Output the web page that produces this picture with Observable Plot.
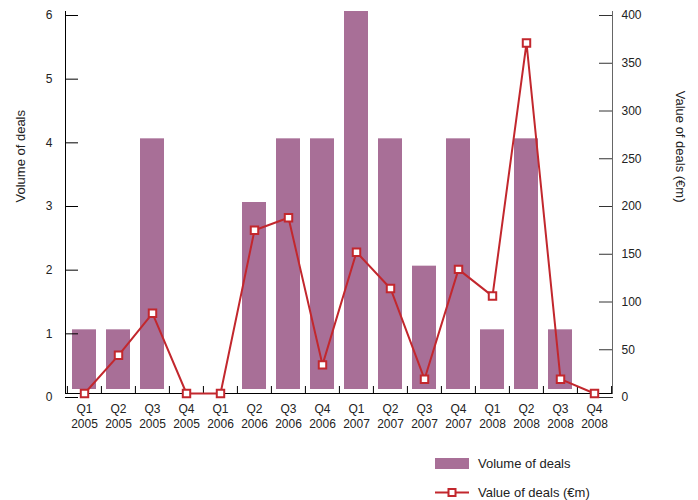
<!DOCTYPE html>
<html>
<head>
<meta charset="utf-8">
<script src="https://cdn.jsdelivr.net/npm/d3@7"></script>
<script src="https://cdn.jsdelivr.net/npm/@observablehq/plot@0.6"></script>
<style>
  body { margin: 0; background: #fff; font-family: "Liberation Sans", Arial, Helvetica, sans-serif; }
  #chart svg { display: block; }
  .legend { position: relative; padding-top: 9px; padding-left: 435px; font-size: 13px; color: #222; }
  .row { height: 29px; display: flex; align-items: center; }
  .sw { width: 34px; height: 11px; background: #a86f97; margin-right: 9px; }
  .ln { width: 34px; height: 11px; margin-right: 9px; }
</style>
</head>
<body>
<div id="chart"></div>
<div class="legend">
  <div class="row"><div class="sw"></div><span>Volume of deals</span></div>
  <div class="row"><svg class="ln" width="34" height="11"><line x1="0" y1="5.5" x2="34" y2="5.5" stroke="#c2272d" stroke-width="2"/><rect x="13.5" y="2" width="7" height="7" fill="#fff" stroke="#c2272d" stroke-width="2"/></svg><span>Value of deals (€m)</span></div>
</div>
<script>
const quarters = ["Q1 2005","Q2 2005","Q3 2005","Q4 2005","Q1 2006","Q2 2006","Q3 2006","Q4 2006",
                  "Q1 2007","Q2 2007","Q3 2007","Q4 2007","Q1 2008","Q2 2008","Q3 2008","Q4 2008"];
const volume = [1,1,4,0,0,3,4,4,6,4,2,4,1,4,1,0];
const valueEm = [0,40,84,0,0,171,184,30,148,110,15,130,102,367,15,0];
const leftTicks = [0,1,2,3,4,5,6];
const rightTicks = [0,50,100,150,200,250,300,350,400];

const k = 6 / 400; // value (€m) -> volume axis units
const data = quarters.map((q, i) => ({q, vol: volume[i], val: valueEm[i] * k}));

const W = 698, H = 440, mL = 65, mR = 86, mT = 11, mB = 47;
const n = quarters.length;
const step = (W - mL - mR) / n;
const unitPx = (H - mT - mB) / 6;

const red = "#c2272d", bar = "#a86f97";

const chart = Plot.plot({
  width: W, height: H,
  marginLeft: mL, marginRight: mR, marginTop: mT, marginBottom: mB,
  style: {fontFamily: '"Liberation Sans", Arial, Helvetica, sans-serif', fontSize: "12px", color: "#222", background: "#fff"},
  x: {domain: quarters, paddingInner: 0.3, paddingOuter: 0.15, axis: null, label: null},
  y: {domain: [0, 6], axis: null, label: null},
  marks: [
    Plot.barY(data.filter(d => d.vol > 0), {x: "q", y1: 0, y2: "vol", fill: bar, insetBottom: 4}),
    // left axis
    Plot.axisY(leftTicks, {anchor: "left", label: null, tickSize: -13, tickPadding: 26, dy: 4, stroke: "#000", tickFormat: d => String(d), fontSize: 12}),
    Plot.frame({anchor: "left", stroke: "#000"}),
    // right axis
    Plot.axisY(rightTicks.map(v => v * k), {anchor: "right", label: null, tickSize: -14, tickPadding: 23, dy: 4, stroke: "#333", tickFormat: d => String(Math.round(d / k)), fontSize: 12}),
    Plot.frame({anchor: "right", stroke: "#666"}),
    // bottom axis
    Plot.ruleY([0], {stroke: "#000"}),
    Plot.ruleX(quarters, {x: d => d, y1: 0, y2: 7 / unitPx, dx: -step / 2, stroke: "#000"}),
    Plot.ruleX([quarters[n - 1]], {x: d => d, y1: 0, y2: 7 / unitPx, dx: step / 2, stroke: "#000"}),
    Plot.axisX(quarters, {anchor: "bottom", label: null, tickSize: 0, tickPadding: 9, lineHeight: 1.25, tickFormat: d => d.replace(" ", "\n"), fontSize: 12}),
    // line
    Plot.line(data, {x: "q", y: "val", stroke: red, strokeWidth: 2}),
    Plot.dot(data, {x: "q", y: "val", symbol: "square", r: 4.2, fill: "#fff", stroke: red, strokeWidth: 2}),
    // axis titles
    Plot.text(["Volume of deals"], {frameAnchor: "left", dx: -45, rotate: -90, fontSize: 13, fill: "#222"}),
    Plot.text(["Value of deals (€m)"], {frameAnchor: "right", dx: 68, rotate: 90, fontSize: 13, fill: "#222"})
  ]
});
document.getElementById("chart").appendChild(chart);
</script>
</body>
</html>
